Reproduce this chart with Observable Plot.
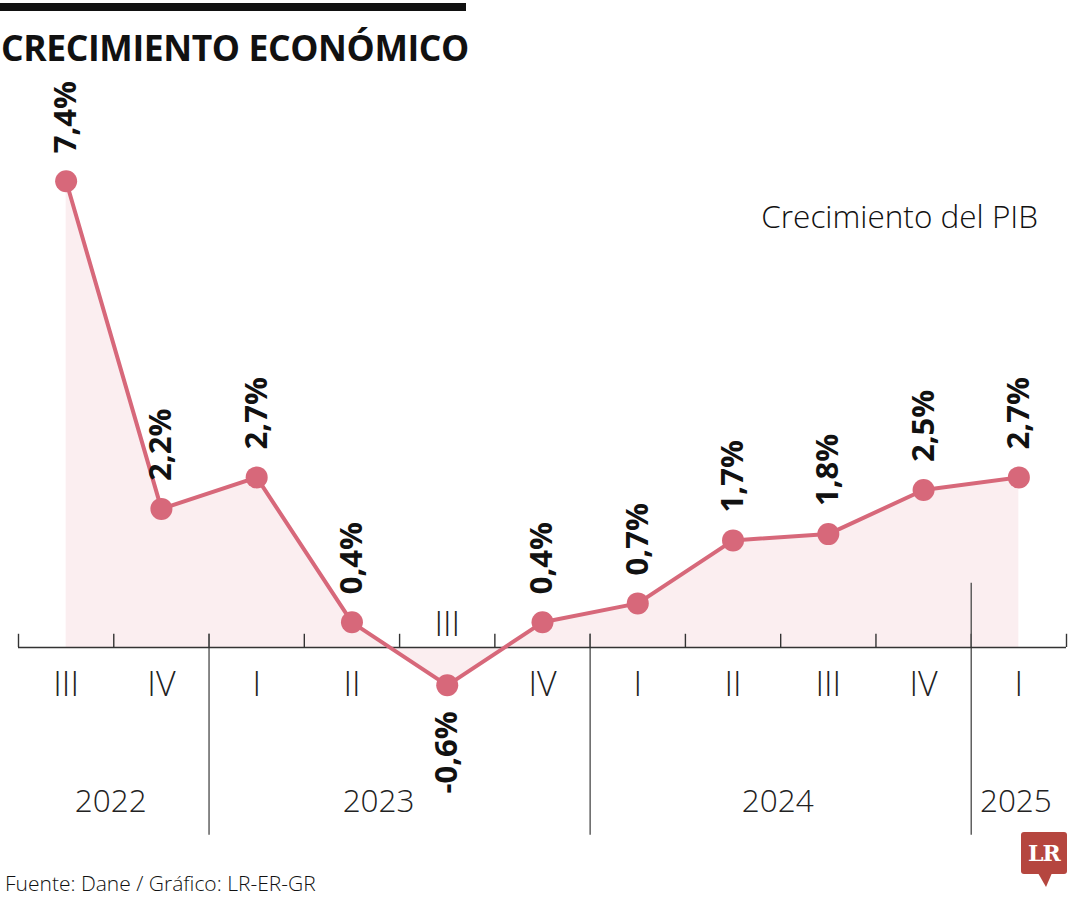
<!DOCTYPE html>
<html><head><meta charset="utf-8">
<script src="https://cdn.jsdelivr.net/npm/d3@7"></script>
<script src="https://cdn.jsdelivr.net/npm/@observablehq/plot@0.6"></script>
<style>
body{margin:0;background:#fff;}
#wrap{position:relative;width:1080px;height:900px;overflow:hidden;font-family:"Open Sans",sans-serif;color:#111;}
#bar{position:absolute;left:0;top:3px;width:466px;height:8px;background:#111;}
#title{position:absolute;left:1px;top:30px;font-weight:700;font-size:35.5px;line-height:1;letter-spacing:-0.4px;white-space:nowrap;}
#chart{position:absolute;left:0;top:78px;}
#sub{position:absolute;right:42px;top:200px;font-weight:300;font-size:31.5px;line-height:1;white-space:nowrap;}
#foot{position:absolute;left:5px;top:873px;font-weight:300;font-size:21px;line-height:1;white-space:nowrap;}
#logo{position:absolute;left:1021px;top:832px;width:46px;height:42px;background:#b5463f;border-radius:3px;color:#fff;font-family:"DejaVu Serif",serif;font-weight:700;font-size:22px;line-height:42px;text-align:center;letter-spacing:-1px;}
#tail{position:absolute;left:1038px;top:873px;width:0;height:0;border-left:8px solid transparent;border-right:6px solid transparent;border-top:14px solid #b5463f;}
</style></head>
<body>
<div id="wrap">
  <div id="bar"></div>
  <div id="title">CRECIMIENTO ECONÓMICO</div>
  <div id="chart"></div>
  <div id="sub">Crecimiento del PIB</div>
  <div id="foot">Fuente: Dane / Gráfico: LR-ER-GR</div>
  <div id="logo">LR</div>
  <div id="tail"></div>
</div>
<script>
// ---- data ----
const quarters = ["III","IV","I","II","III","IV","I","II","III","IV","I"];
const quarterYears = ["2022","2022","2023","2023","2023","2023","2024","2024","2024","2024","2025"];
const values = [7.4, 2.2, 2.7, 0.4, -0.6, 0.4, 0.7, 1.7, 1.8, 2.5, 2.7];
const years = ["2022","2023","2024","2025"];

// ---- derived table ----
const fmt = v => v.toFixed(1).replace(".", ",") + "%";
const rows = values.map((v, i) => ({i, q: quarters[i], year: quarterYears[i], v, label: fmt(v)}));
const pos = rows.filter(d => d.v >= 0);
const neg = rows.filter(d => d.v < 0);
const boundaries = d3.range(0, rows.length + 1).map(k => k - 0.5);
const yearStarts = rows.filter((d, i) => i > 0 && d.year !== rows[i - 1].year).map(d => ({x: d.i - 0.5, last: d.year === years[years.length - 1]}));
const yearLabels = years.map(y => ({year: y, x: d3.mean(rows.filter(d => d.year === y), d => d.i)}));
const yearShifted = yearLabels.filter(d => d.year === "2023");
const yearPlain = yearLabels.filter(d => d.year !== "2023");

const red = "#d7687a";
const chart = Plot.plot({
  width: 1080,
  height: 780,
  marginLeft: 18,
  marginRight: 14,
  marginTop: 65,
  marginBottom: 22,
  x: {domain: [-0.5, rows.length - 0.5], axis: null},
  y: {domain: [-3, 8], axis: null},
  style: {fontFamily: "'Open Sans', sans-serif", background: "transparent"},
  marks: [
    Plot.areaY(rows, {x: "i", y: "v", fill: "#fbeef0"}),
    Plot.ruleX(boundaries, {x: d => d, y1: 0, y2: 0.21, stroke: "#333", strokeWidth: 1.4}),
    Plot.ruleX(yearStarts, {x: "x", y1: d => d.last ? 1.02 : 0.21, y2: -2.98, stroke: "#555", strokeWidth: 1.4}),
    Plot.ruleY([0], {x1: -0.5, x2: rows.length - 0.5, stroke: "#333", strokeWidth: 1.6}),
    Plot.line(rows, {x: "i", y: "v", stroke: red, strokeWidth: 4}),
    Plot.dot(rows, {x: "i", y: "v", r: 11, fill: red, stroke: "none"}),
    Plot.text(pos, {x: "i", y: "v", text: "label", rotate: -90, textAnchor: "start", dy: -28, fontWeight: 700, fontSize: 31, fill: "#111"}),
    Plot.text(neg, {x: "i", y: "v", text: "label", rotate: -90, textAnchor: "end", dy: 26, fontWeight: 700, fontSize: 31, fill: "#111"}),
    Plot.text(pos, {x: "i", y: 0, text: "q", dy: 38, fontSize: 34, fontWeight: 300, fill: "#222"}),
    Plot.text(neg, {x: "i", y: 0, text: "q", dy: -22, fontSize: 34, fontWeight: 300, fill: "#222"}),
    Plot.text(yearPlain, {x: "x", y: 0, text: "year", dx: -3, dy: 154, fontSize: 31.5, fontWeight: 300, fill: "#222"}),
    Plot.text(yearShifted, {x: "x", y: 0, text: "year", dx: -21, dy: 154, fontSize: 31.5, fontWeight: 300, fill: "#222"})
  ]
});
document.getElementById("chart").appendChild(chart);
</script>
</body></html>
